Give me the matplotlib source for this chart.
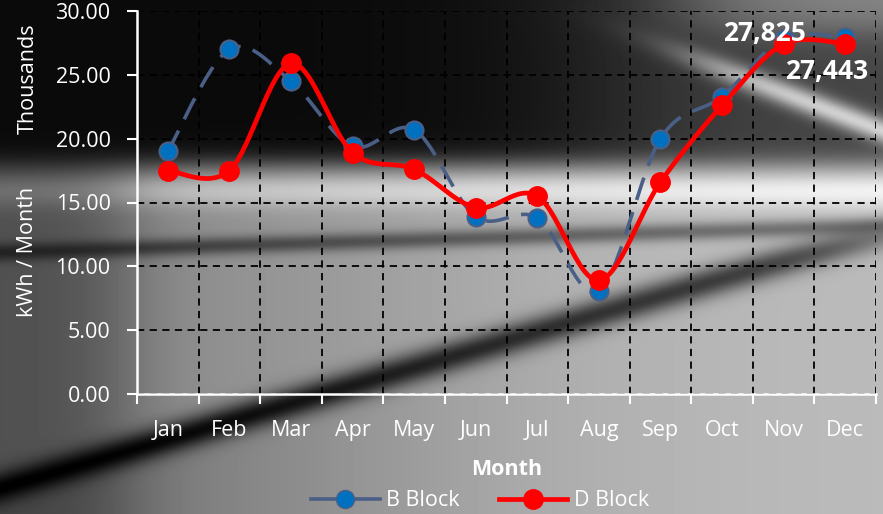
import matplotlib.pyplot as plt
import numpy as np
from matplotlib.lines import Line2D

months = ['Jan', 'Feb', 'Mar', 'Apr', 'May', 'Jun', 'Jul', 'Aug', 'Sep', 'Oct', 'Nov', 'Dec']
# monthly energy use, thousands of kWh
b_block = [19.0, 27.0, 24.5, 19.4, 20.7, 13.9, 13.8, 8.1, 20.0, 23.3, 27.825, 27.95]
d_block = [17.5, 17.5, 25.9, 18.9, 17.6, 14.6, 15.5, 8.9, 16.6, 22.6, 27.4, 27.443]
yticks = [0, 5, 10, 15, 20, 25, 30]


def smooth(xs, ys, n=30):
    # Catmull-Rom style curve through the points (like a spreadsheet "smoothed line")
    p = np.column_stack([xs, ys]).astype(float)
    p = np.vstack([p[0], p, p[-1]])
    out = []
    for i in range(1, len(p) - 2):
        p0, p1, p2, p3 = p[i - 1], p[i], p[i + 1], p[i + 2]
        c1 = p1 + (p2 - p0) / 6
        c2 = p2 - (p3 - p1) / 6
        t = np.linspace(0, 1, n)[:, None]
        seg = (1 - t) ** 3 * p1 + 3 * (1 - t) ** 2 * t * c1 + 3 * (1 - t) * t ** 2 * c2 + t ** 3 * p2
        out.append(seg if i == 1 else seg[1:])
    out = np.vstack(out)
    return out[:, 0], out[:, 1]


plt.rcParams['font.family'] = ['Open Sans', 'DejaVu Sans']

W, H = 883, 514
fig = plt.figure(figsize=(W / 100, H / 100), dpi=100)

# grey photographic backdrop, built from soft bands
X, Y = np.meshgrid(np.arange(W), np.arange(H))
sig = lambda z: 1 / (1 + np.exp(-z))
mid = 0.50 + 0.28 * sig((X - 420) / 180)
mid += 0.20 * np.exp(-((Y - 190) / 17) ** 2)
yb = 252 - 0.03 * X
mid -= 0.30 * np.exp(-((Y - yb) / 9) ** 2)
yd = 487 - 0.29 * X
below = sig((Y - yd) / 6)
low = 0.42 + 0.32 * sig((X - 350) / 150)
mid = mid * (1 - below) + low * below
mid -= 0.5 * np.exp(-((Y - yd) / 16) ** 2) * sig((Y - 235) / 12)
mid *= 0.6 + 0.4 * sig((X - 125) / 25)
w_top = sig((163 - Y) / 7)
top_val = 0.04 + 0.24 * sig((X - 620) / 70)
img = mid * (1 - w_top) + top_val * w_top
ys = 80 + (X - 750) * 0.38
img += 0.55 * np.exp(-((Y - ys) / 13) ** 2) * sig((X - 700) / 30)
img += 0.25 * sig((X - 690) / 40) * sig((30 - Y) / 10)
img = np.clip(img, 0, 1)

bg = fig.add_axes([0, 0, 1, 1], zorder=-5)
bg.imshow(img, cmap='gray', vmin=0, vmax=1, aspect='auto', interpolation='bilinear')
bg.axis('off')

ax = fig.add_axes([137 / W, 1 - 394 / H, (876 - 137) / W, (394 - 11) / H])
ax.patch.set_alpha(0)

x = np.arange(len(months))
bx, by = smooth(x, b_block)
dx, dy = smooth(x, d_block)

ax.plot(bx, by, color='#4A5F86', lw=2.6, dashes=(6.5, 3.5), zorder=3)
ax.plot(x, b_block, 'o', ms=13, mfc='#0070C0', mec='#4A5F86', mew=1.5, zorder=4)
ax.plot(dx, dy, color='#FF0000', lw=3.4, zorder=5)
ax.plot(x, d_block, 'o', ms=14, mfc='#FF0000', mec='#FF0000', zorder=6)

ax.annotate(f'{b_block[10] * 1000:,.0f}', (x[10], b_block[10]), xytext=(-13.7, 4),
            textcoords='offset points', ha='center', va='center', color='white',
            fontsize=19, fontweight='bold', zorder=7)
ax.annotate(f'{d_block[11] * 1000:,.0f}', (x[11], d_block[11]), xytext=(-13.7, -20),
            textcoords='offset points', ha='center', va='center', color='white',
            fontsize=19, fontweight='bold', zorder=7)

ax.set_xlim(-0.5, 11.5)
ax.set_ylim(0, 30)
ax.set_yticks(yticks)
ax.set_yticklabels([f'{v:.2f}' for v in yticks])
ax.set_xticks(x)
ax.set_xticklabels(months)
ax.set_xticks(np.arange(-0.5, 12, 1), minor=True)
ax.tick_params(axis='x', which='major', length=0, pad=18.5, labelsize=15.5, colors='white')
ax.tick_params(axis='x', which='minor', length=7, width=1.5, color='white', direction='out')
ax.tick_params(axis='y', length=7, width=1.5, color='white', labelcolor='white', pad=12, labelsize=15.5)
ax.grid(True, axis='y', color='black', ls=(0, (4, 3)), lw=1.3)
ax.grid(True, axis='x', which='minor', color='black', ls=(0, (4, 3)), lw=1.3)
for s in ['top', 'right']:
    ax.spines[s].set_visible(False)
for s in ['left', 'bottom']:
    ax.spines[s].set_color('white')
    ax.spines[s].set_linewidth(1.8)

ax.set_xlabel('Month', color='white', fontsize=15.5, fontweight='bold', labelpad=13)
fig.text(28 / W, 1 - 252 / H, 'kWh / Month', rotation=90, color='white', fontsize=15.5,
         ha='center', va='center')
fig.text(28 / W, 1 - 79 / H, 'Thousands', rotation=90, color='white', fontsize=15.5,
         ha='center', va='center')

handles = [
    Line2D([], [], color='#4A5F86', lw=2.6, marker='o', ms=13, mfc='#0070C0', mec='#4A5F86'),
    Line2D([], [], color='#FF0000', lw=3.4, marker='o', ms=14, mfc='#FF0000', mec='#FF0000'),
]
leg = fig.legend(handles, ['B Block', 'D Block'], loc='center', bbox_to_anchor=(480 / W, 1 - 501 / H),
                 ncol=2, frameon=False, fontsize=15.5, labelcolor='white', handlelength=3.2,
                 handletextpad=0.3, columnspacing=1.8)

fig.savefig('out.png', dpi=100)
